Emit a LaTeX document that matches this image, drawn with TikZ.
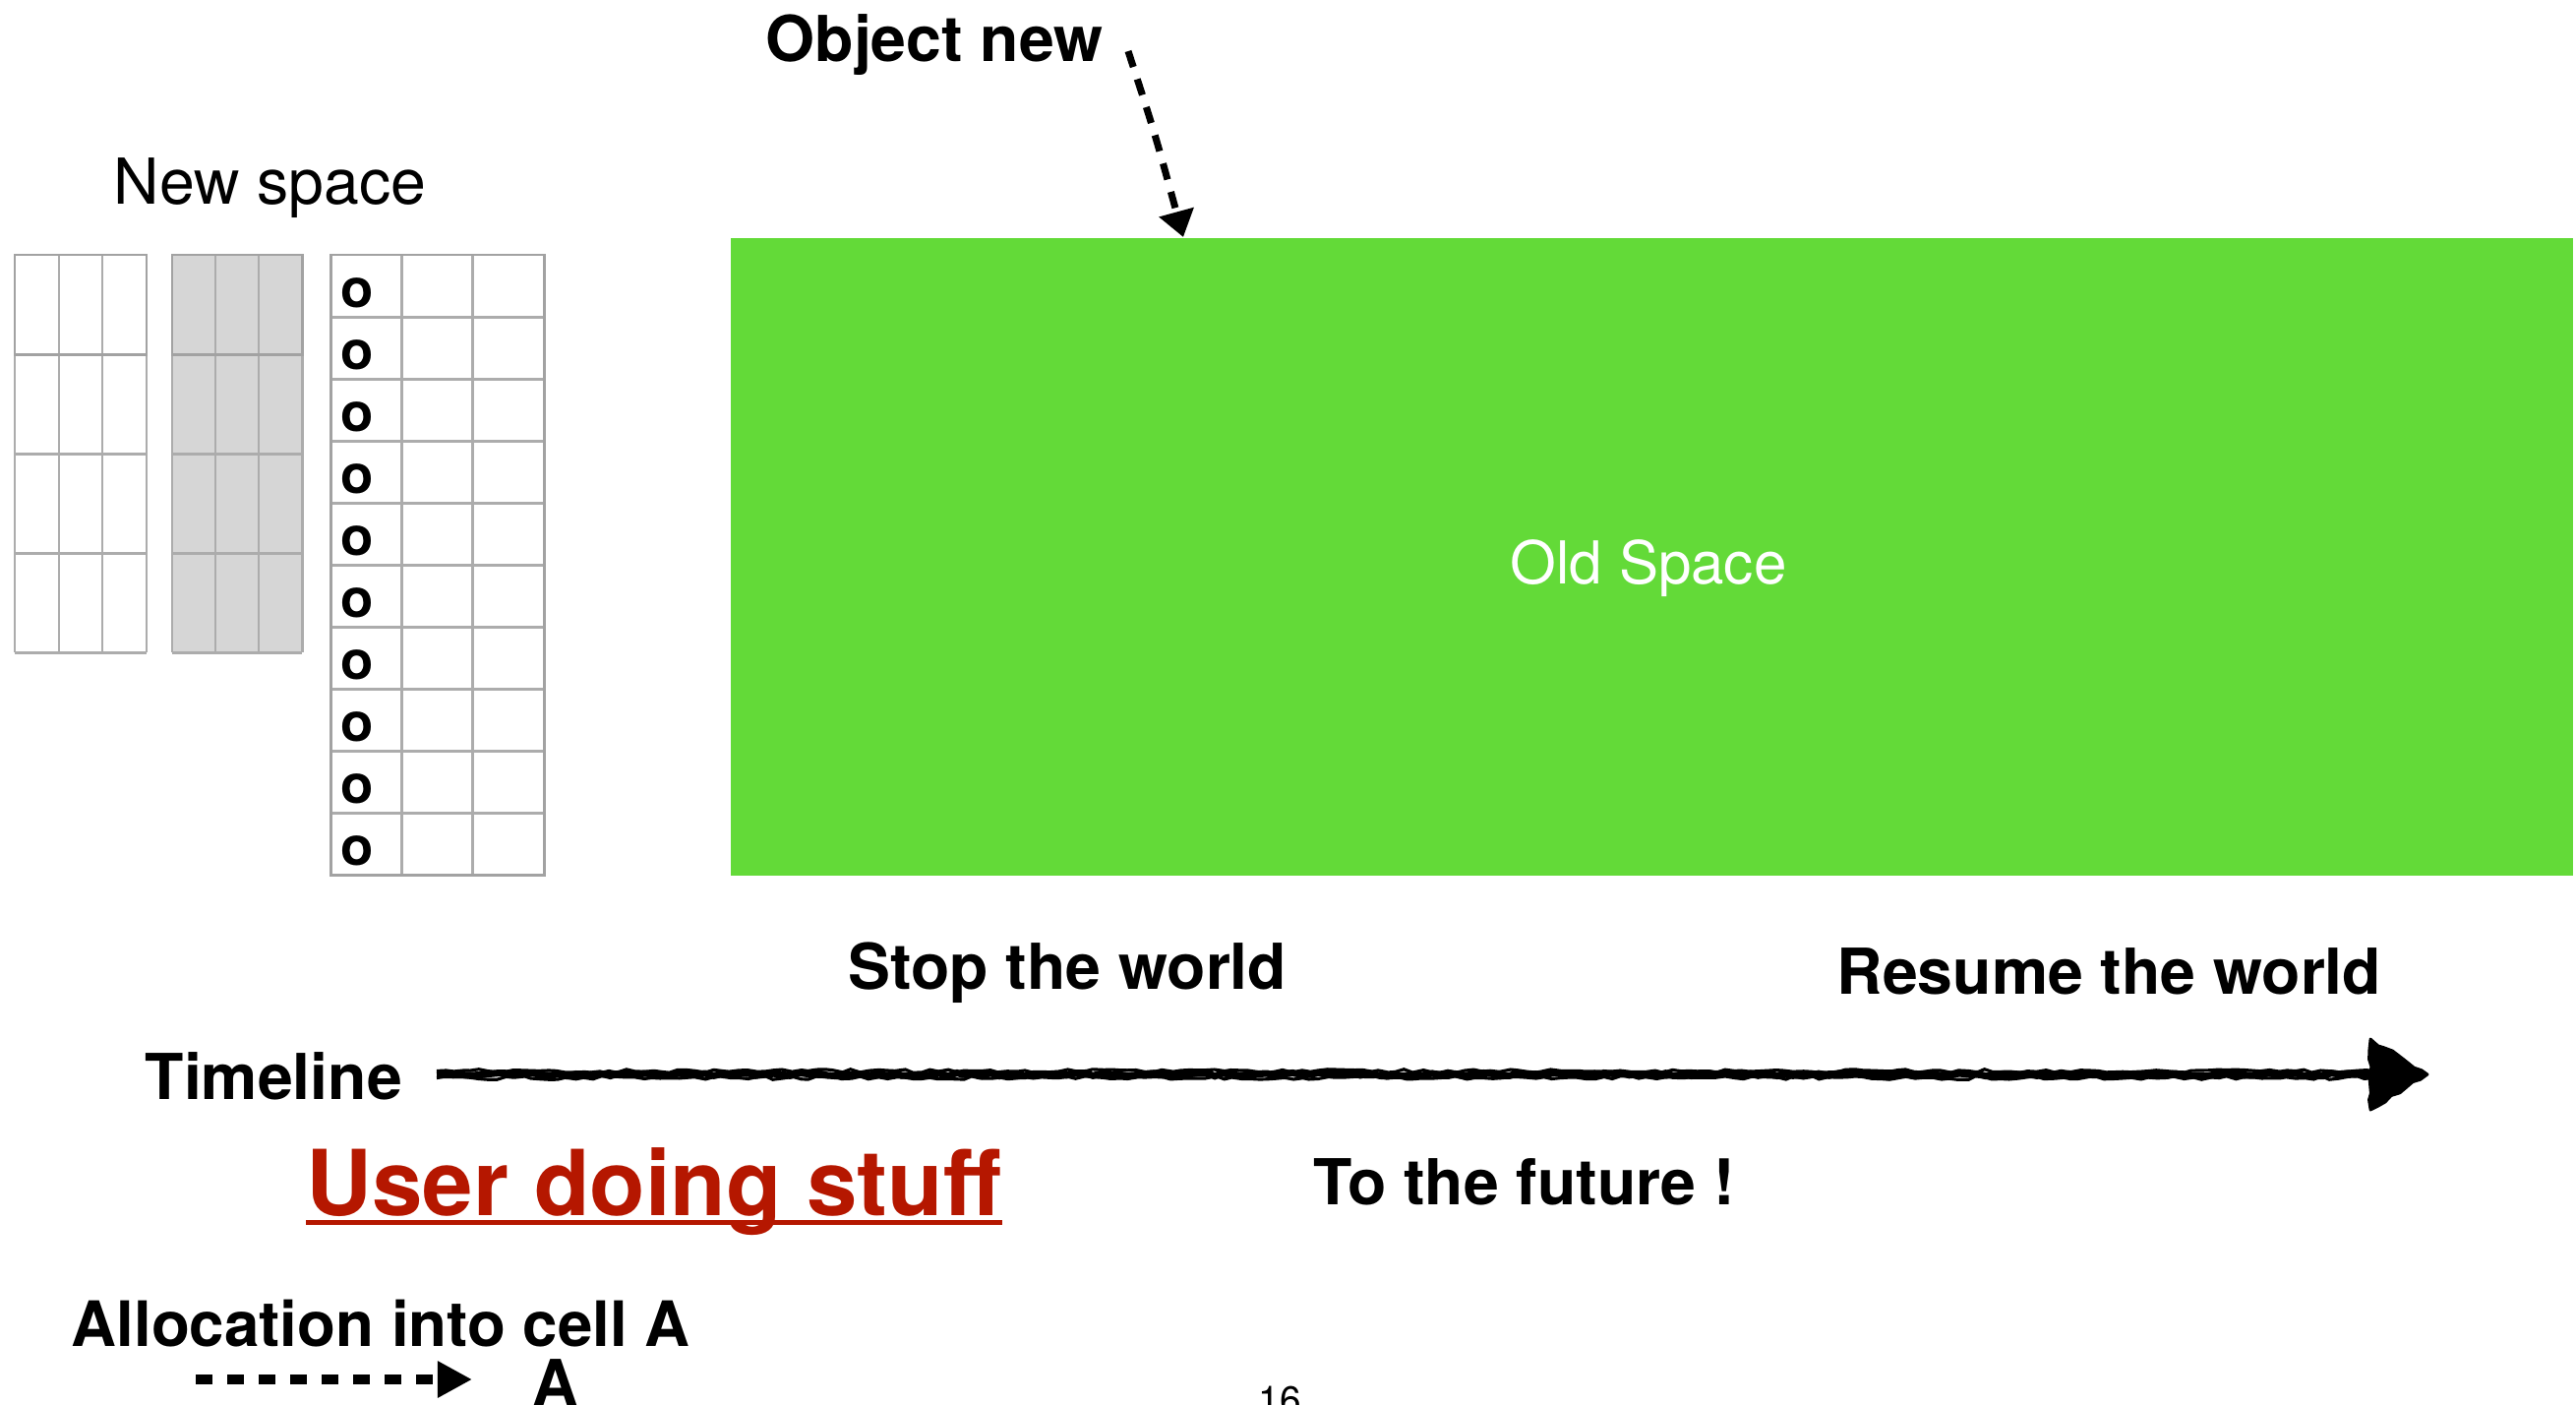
\documentclass[tikz,border=0pt]{standalone}
\usepackage{fontspec}
\setmainfont{TeX Gyre Heros}
\usetikzlibrary{arrows.meta,decorations.pathmorphing}
\definecolor{oldgreen}{RGB}{99,218,56}
\definecolor{userred}{RGB}{181,23,0}
\definecolor{gridline}{RGB}{172,172,172}
\definecolor{gridedge}{RGB}{162,162,162}
\definecolor{gridfill}{RGB}{214,214,214}
\begin{document}
\begin{tikzpicture}[x=0.01cm, y=-0.01cm,
  bold/.style={inner sep=0, anchor=base west, font=\bfseries\fontsize{18.3}{22}\selectfont},
  plain/.style={inner sep=0, anchor=base west, font=\fontsize{18.3}{22}\selectfont},
  cellline/.style={draw=gridline, line width=0.85pt},
  celledge/.style={draw=gridedge, line width=0.85pt},
  objmark/.style={inner sep=0, anchor=base west, font=\bfseries\fontsize{15.5}{18}\selectfont},
  rough/.style={decorate, decoration={random steps, segment length=2.5pt, amplitude=0.5pt}},
]
\useasboundingbox (0,0) rectangle (2619,1427);
\clip (0,0) rectangle (2619,1427);

% ---- new space: two empty 3x4 blocks and one filled 3x10 block
\node[plain] (newspace) at (115,207) {New space};

\foreach \x in {15,60,104,149} \draw[cellline] (\x,259) -- (\x,663);
\foreach \y in {259,360,461,562,663} \draw[cellline] (15,\y) -- (149,\y);
\draw[celledge] (15,259) rectangle (149,360);

\fill[gridfill] (175,259) rectangle (307,663);
\foreach \x in {175,219,263,307} \draw[cellline] (\x,259) -- (\x,663);
\foreach \y in {259,360,461,562,663} \draw[cellline] (175,\y) -- (307,\y);
\draw[celledge] (175,259) rectangle (307,360);

\foreach \x in {336,408,480,553} \draw[cellline] (\x,259) -- (\x,889);
\foreach \k in {0,...,10} \draw[cellline] (336,{259+63*\k}) -- (553,{259+63*\k});
\draw[celledge] (336,259) rectangle (553,889);
\foreach \k in {0,...,9} \node[objmark] (o\k) at (346,{312+63*\k}) {o};

% ---- old space
\node[fill=oldgreen, inner sep=0, minimum width=18.72cm, minimum height=6.48cm,
      anchor=north west] (old) at (742,241) {};
\node[plain, text=white, font=\fontsize{17.1}{20}\selectfont] (oldlbl) at (1535,593) {Old Space};

% ---- allocation of a new object
\node[bold] (objnew) at (778,62) {Object new};
\coordinate (objtail) at (1147,52);
\coordinate (objtip) at (1203,241);
\draw[line width=2pt, dash pattern=on 4.8pt off 3.7pt,
      -{Triangle[length=7.5pt,width=10pt]}]
  (objtail) .. controls (1174,135) .. (objtip);

% ---- timeline
\node[bold] (stop) at (862,1005) {Stop the world};
\node[bold] (resume) at (1867,1010) {Resume the world};
\node[bold] (timeline) at (147,1117) {Timeline};
\coordinate (tlstart) at (444,1092);
\coordinate (tlend) at (2414,1092);
\coordinate (tltip) at (2468,1092);
\coordinate (tltop) at (2410,1056);
\coordinate (tlbot) at (2410,1128);
\pgfmathsetseed{11}
\draw[line width=2pt, rough] (tlstart) -- (tlend);
\draw[line width=0.9pt, rough] ([yshift=1pt]tlstart) -- ([yshift=1pt]tlend);
\draw[line width=0.9pt, rough] ([yshift=-1pt]tlstart) -- ([yshift=-1pt]tlend);
\filldraw[line width=0.8pt, line join=round, rough] (tltop) -- (tltip) -- (tlbot) -- cycle;

\node[bold, font=\bfseries\fontsize{26.3}{30}\selectfont, text=userred] (user) at (311,1235) {User doing stuff};
\draw[userred, line width=1.5pt] ([yshift=-0.75mm]user.base west) -- ([yshift=-0.75mm]user.base east);
\node[bold] (future) at (1335,1224) {To the future !};

% ---- allocation into a cell
\node[bold, font=\bfseries\fontsize{18.1}{22}\selectfont] (alloc) at (72,1368) {Allocation into cell A};
\node[bold] (cellA) at (541,1428) {A};
\coordinate (allocstart) at (199,1402);
\coordinate (alloctip) at (480,1402);
\draw[line width=2.6pt, dash pattern=on 4.8pt off 4.3pt,
      -{Triangle[length=10pt,width=10pt]}] (allocstart) -- (alloctip);

\node[plain, font=\fontsize{11}{13}\selectfont] (page) at (1279,1436) {16};
\end{tikzpicture}
\end{document}
